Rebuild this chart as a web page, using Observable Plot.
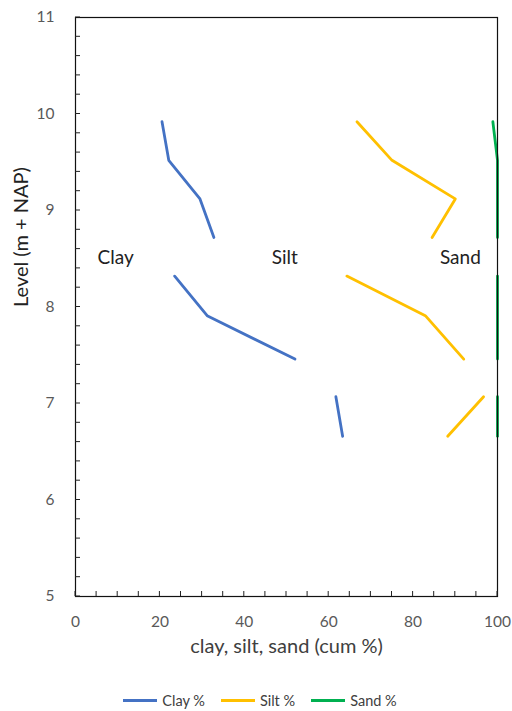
<!DOCTYPE html>
<html>
<head>
<meta charset="utf-8">
<script src="https://cdn.jsdelivr.net/npm/d3@7"></script>
<script src="https://cdn.jsdelivr.net/npm/@observablehq/plot@0.6"></script>
<style>
  body { margin: 0; background: #fff; font-family: Lato, "Open Sans", sans-serif; }
  #chart { width: 512px; }
  .legend { display: flex; justify-content: center; align-items: center; margin-top: 10px; height: 36px; font-size: 14.5px; color: #404040; padding-left: 8px; gap: 16px; }
  .legend .item { display: flex; align-items: center; }
  .legend .sw { width: 34px; height: 3px; margin-right: 5px; }
</style>
</head>
<body>
<div id="chart"></div>
<script>
// Levels (m + NAP) per sampled interval
const levels1 = [9.92, 9.52, 9.12, 8.72];
const levels2 = [8.32, 7.91, 7.46];
const levels3 = [7.07, 6.66];

// Cumulative percentages
const clay1 = [20.5, 22.1, 29.5, 32.8];
const clay2 = [23.5, 31.2, 52.0];
const clay3 = [61.7, 63.3];

const silt1 = [66.7, 75.0, 90.0, 84.5];
const silt2 = [64.3, 82.9, 92.0];
const silt3 = [96.7, 88.2];

const sand1 = [98.9, 100, 100, 100];
const sand2 = [100, 100, 100];
const sand3 = [100, 100];

const seriesNames = ["Clay %", "Silt %", "Sand %"];
const seriesColors = ["#4472C4", "#FFC000", "#00B050"];

const zoneLabels = ["Clay", "Silt", "Sand"];
const zoneX = [9.5, 49.6, 91.2];
const zoneY = [8.51, 8.51, 8.51];

const xTicks = [0, 20, 40, 60, 80, 100];
const yTicks = [5, 6, 7, 8, 9, 10, 11];

function rows(series, group, xs, ys) {
  return xs.map((x, i) => ({series, group: series + group, x, y: ys[i]}));
}
const data = [
  ...rows("Clay %", 1, clay1, levels1), ...rows("Clay %", 2, clay2, levels2), ...rows("Clay %", 3, clay3, levels3),
  ...rows("Silt %", 1, silt1, levels1), ...rows("Silt %", 2, silt2, levels2), ...rows("Silt %", 3, silt3, levels3),
  ...rows("Sand %", 1, sand1, levels1), ...rows("Sand %", 2, sand2, levels2), ...rows("Sand %", 3, sand3, levels3)
];
const labels = zoneLabels.map((t, i) => ({t, x: zoneX[i], y: zoneY[i]}));

const xMinor = d3.range(0, 101, 5);
const yMinor = d3.range(5, 11.001, 0.2).map(v => +v.toFixed(2));

const plot = Plot.plot({
  width: 512,
  height: 672,
  marginTop: 17,
  marginLeft: 75,
  marginRight: 15,
  marginBottom: 76,
  style: {fontFamily: "Lato, 'Open Sans', sans-serif", background: "#fff", overflow: "visible"},
  x: {domain: [0, 100], label: null},
  y: {domain: [5, 11], label: null},
  color: {domain: seriesNames, range: seriesColors},
  marks: [
    Plot.axisX({ticks: xTicks, tickSize: 0, tickPadding: 19, fontSize: 15.5, fill: "#595959", label: null, tickFormat: "d"}),
    Plot.axisY({ticks: yTicks, tickSize: 0, tickPadding: 21, fontSize: 15.5, fill: "#595959", label: null, tickFormat: "d"}),
    Plot.line(data, {x: "x", y: "y", z: "group", stroke: "series", strokeWidth: 2.8, curve: "linear"}),
    Plot.frame({stroke: "#111", strokeWidth: 1.2}),
    Plot.text(labels, {x: "x", y: "y", text: "t", fontSize: 19, fill: "#222"}),
    Plot.text(["clay, silt, sand (cum %)"], {frameAnchor: "bottom", dy: 56, fontSize: 20, fill: "#404040"}),
    Plot.text(["Level (m + NAP)"], {frameAnchor: "left", dx: -54, rotate: -90, fontSize: 20, fill: "#222"})
  ]
});

// Minor tick marks pointing inward, positioned through the plot's own scales
const xs = plot.scale("x"), ys = plot.scale("y");
const svg = d3.select(plot);
const g = svg.append("g").attr("stroke", "#222").attr("stroke-width", 1);
const x0 = xs.apply(0), yBottom = ys.apply(5);
xMinor.forEach(v => {
  const px = xs.apply(v);
  g.append("line").attr("x1", px).attr("x2", px).attr("y1", yBottom).attr("y2", yBottom - 5);
});
yMinor.forEach(v => {
  const py = ys.apply(v);
  g.append("line").attr("x1", x0).attr("x2", x0 + 5).attr("y1", py).attr("y2", py);
});

document.getElementById("chart").appendChild(plot);

const legend = document.createElement("div");
legend.className = "legend";
seriesNames.forEach((n, i) => {
  const item = document.createElement("div");
  item.className = "item";
  const sw = document.createElement("div");
  sw.className = "sw";
  sw.style.background = seriesColors[i];
  const tx = document.createElement("span");
  tx.textContent = n;
  item.appendChild(sw); item.appendChild(tx);
  legend.appendChild(item);
});
document.getElementById("chart").appendChild(legend);
</script>
</body>
</html>
